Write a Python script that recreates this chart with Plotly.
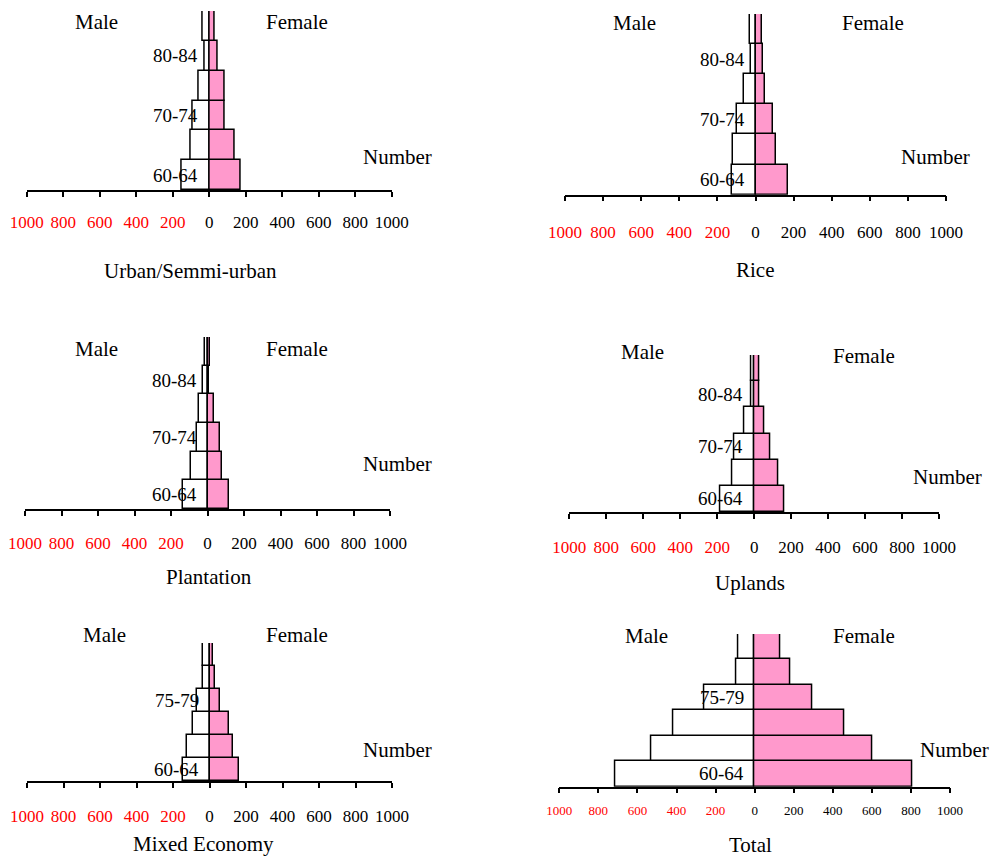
import plotly.graph_objects as go

W, H = 991, 858

ages = ["60-64", "65-69", "70-74", "75-79", "80-84", "85+"]

urban_male = [153, 100, 88, 57, 26, 35]
urban_female = [175, 141, 86, 86, 47, 31]
rice_male = [125, 117, 96, 63, 24, 30]
rice_female = [168, 105, 93, 52, 38, 33]
plant_male = [133, 89, 58, 46, 24, 16]
plant_female = [119, 79, 66, 33, 9, 15]
upl_male = [184, 117, 108, 54, 13, 18]
upl_female = [162, 130, 87, 54, 27, 27]
mixed_male = [146, 124, 91, 68, 37, 37]
mixed_female = [161, 128, 106, 55, 31, 18]
total_male = [713, 531, 416, 256, 92, 82]
total_female = [805, 604, 461, 297, 184, 133]

tick_vals = [-1000, -800, -600, -400, -200, 0, 200, 400, 600, 800, 1000]
tick_labels = ["1000", "800", "600", "400", "200", "0", "200", "400", "600", "800", "1000"]

FONT = "Liberation Serif, Times New Roman, serif"
PINK = "#FF99CC"

panels = [
    dict(title="Urban/Semmi-urban", male=urban_male, female=urban_female, lab=[0, 2, 4],
         xpx=(26.7, 391.7), ypx=(11, 190), male_pos=(96, 22), fem_pos=(297, 22),
         num_pos=(397, 157), title_pos=(190, 271), tfs=17, standoff=11),
    dict(title="Rice", male=rice_male, female=rice_female, lab=[0, 2, 4],
         xpx=(565, 946), ypx=(14, 194.7), male_pos=(634, 23), fem_pos=(873, 23),
         num_pos=(935, 157), title_pos=(755, 270), tfs=17, standoff=16),
    dict(title="Plantation", male=plant_male, female=plant_female, lab=[0, 2, 4],
         xpx=(25, 390), ypx=(337, 509), male_pos=(96, 349), fem_pos=(297, 349),
         num_pos=(397, 464), title_pos=(209, 577), tfs=17, standoff=13),
    dict(title="Uplands", male=upl_male, female=upl_female, lab=[0, 2, 4],
         xpx=(569.3, 939), ypx=(355, 512), male_pos=(642, 352), fem_pos=(864, 356),
         num_pos=(947, 477), title_pos=(750, 583), tfs=17, standoff=14),
    dict(title="Mixed Economy", male=mixed_male, female=mixed_female, lab=[0, 3],
         xpx=(27, 392), ypx=(643, 781), male_pos=(104, 635), fem_pos=(297, 635),
         num_pos=(397, 750), title_pos=(203, 844), tfs=17, standoff=14),
    dict(title="Total", male=total_male, female=total_female, lab=[0, 3],
         xpx=(559.3, 950), ypx=(634, 786.7), male_pos=(646, 636), fem_pos=(864, 636),
         num_pos=(954, 750), title_pos=(750, 845), tfs=13, standoff=6),
]

fig = go.Figure()
annotations = []
layout = {}


def px2fx(x):
    return x / W


def px2fy(y):
    return 1 - y / H


for i, p in enumerate(panels):
    n = "" if i == 0 else str(i + 1)
    xa, ya = "x" + n, "y" + n
    yidx = list(range(len(ages)))
    fig.add_trace(go.Bar(
        y=yidx, x=[-v for v in p["male"]], orientation="h", xaxis=xa, yaxis=ya,
        marker=dict(color="white", line=dict(color="black", width=1.5)),
        name="Male", hoverinfo="skip"))
    fig.add_trace(go.Bar(
        y=yidx, x=p["female"], orientation="h", xaxis=xa, yaxis=ya,
        marker=dict(color=PINK, line=dict(color="black", width=1.5)),
        name="Female", hoverinfo="skip"))

    ticktext = [
        (f'<span style="color:red">{t}</span>' if v < 0 else t)
        for v, t in zip(tick_vals, tick_labels)
    ]
    layout["xaxis" + n] = dict(
        domain=[px2fx(p["xpx"][0]), px2fx(p["xpx"][1])],
        anchor=ya, range=[-1000, 1000], showgrid=False, zeroline=False,
        showline=True, linecolor="black", linewidth=1.5,
        ticks="outside", ticklen=5, tickwidth=1.5, tickcolor="black",
        tickmode="array", tickvals=tick_vals, ticktext=ticktext,
        tickfont=dict(family=FONT, size=p["tfs"], color="black"),
        ticklabelstandoff=p["standoff"], automargin=False, fixedrange=True)
    layout["yaxis" + n] = dict(
        domain=[px2fy(p["ypx"][1]), px2fy(p["ypx"][0])],
        anchor=xa, range=[-0.5, 5.5], visible=False, automargin=False,
        fixedrange=True)

    for k in p["lab"]:
        annotations.append(dict(
            x=0, y=k, xref=xa, yref=ya, text=ages[k], showarrow=False,
            xanchor="right", yanchor="middle", xshift=-9,
            font=dict(family=FONT, size=19, color="black")))

    for key, txt in [("male_pos", "Male"), ("fem_pos", "Female"),
                     ("num_pos", "Number"), ("title_pos", p["title"])]:
        x, y = p[key]
        annotations.append(dict(
            x=px2fx(x), y=px2fy(y), xref="paper", yref="paper", text=txt,
            showarrow=False, xanchor="center", yanchor="middle",
            font=dict(family=FONT, size=21, color="black")))

fig.update_layout(
    width=W, height=H,
    margin=dict(l=0, r=0, t=0, b=0, pad=0, autoexpand=False),
    paper_bgcolor="white", plot_bgcolor="white",
    barmode="overlay", bargap=0, showlegend=False,
    annotations=annotations, **layout)

fig.write_html("out.html")
